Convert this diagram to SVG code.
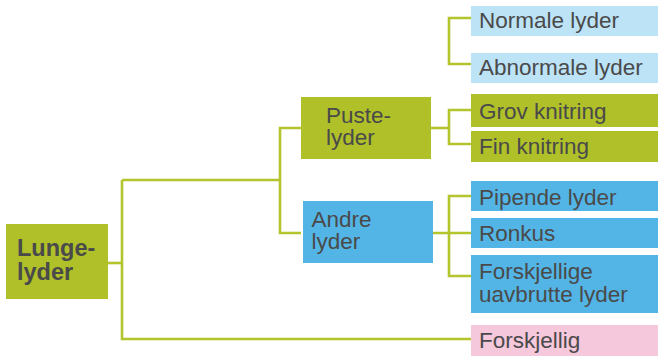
<svg xmlns="http://www.w3.org/2000/svg" width="658" height="356" viewBox="0 0 658 356">
<style>
.t{font-family:"Liberation Sans",Arial,sans-serif;font-size:22.5px;fill:#4a4a4a}
.b{font-weight:bold;font-size:23.5px}
.g{fill:#afc029}
.lb{fill:#bde3f7}
.bl{fill:#53b5e6}
.pk{fill:#f5c8dc}
.c{fill:none;stroke:#b3c42c;stroke-width:2.6}
</style>
<rect width="658" height="356" fill="#fff"/>
<g id="connectors">
<polyline class="c" points="108,263 122,263"/>
<polyline class="c" points="122,180 122,339 471,339"/>
<polyline class="c" points="122,180 280,180"/>
<polyline class="c" points="301,128 280,128 280,233 301,233"/>
<polyline class="c" points="471,18 449,18 449,64 471,64"/>
<polyline class="c" points="431,128 449,128"/>
<polyline class="c" points="471,110 449,110 449,144 471,144"/>
<polyline class="c" points="433,233 471,233"/>
<polyline class="c" points="471,196 449,196 449,276 471,276"/>
</g>
<g id="lunge"><rect class="g" x="6" y="224" width="102" height="75"/><text class="t b" x="17" y="256">Lunge-</text><text class="t b" x="17" y="279.5">lyder</text></g>
<g id="puste"><rect class="g" x="301" y="97" width="130" height="62"/><text class="t" x="326" y="123">Puste-</text><text class="t" x="326" y="144.5">lyder</text></g>
<g id="andre"><rect class="bl" x="303" y="201" width="130" height="62"/><text class="t" x="311.5" y="226.5">Andre</text><text class="t" x="311.5" y="248.5">lyder</text></g>
<g id="normale"><rect class="lb" x="471" y="6" width="187" height="30"/><text class="t" x="479" y="28">Normale lyder</text></g>
<g id="abnormale"><rect class="lb" x="471" y="53" width="187" height="30"/><text class="t" x="479" y="74.5">Abnormale lyder</text></g>
<g id="grov"><rect class="g" x="471" y="94" width="187" height="33"/><text class="t" x="479" y="119">Grov knitring</text></g>
<g id="fin"><rect class="g" x="471" y="131" width="187" height="31"/><text class="t" x="479" y="154">Fin knitring</text></g>
<g id="pipende"><rect class="bl" x="471" y="181" width="187" height="30"/><text class="t" x="479" y="204.5">Pipende lyder</text></g>
<g id="ronkus"><rect class="bl" x="471" y="218" width="187" height="30"/><text class="t" x="479" y="241">Ronkus</text></g>
<g id="uavbrutte"><rect class="bl" x="471" y="255" width="187" height="58"/><text class="t" x="479" y="278.5">Forskjellige</text><text class="t" x="479" y="302">uavbrutte lyder</text></g>
<g id="forskjellig"><rect class="pk" x="471" y="325" width="187" height="31"/><text class="t" x="479" y="347.5">Forskjellig</text></g>
</svg>
